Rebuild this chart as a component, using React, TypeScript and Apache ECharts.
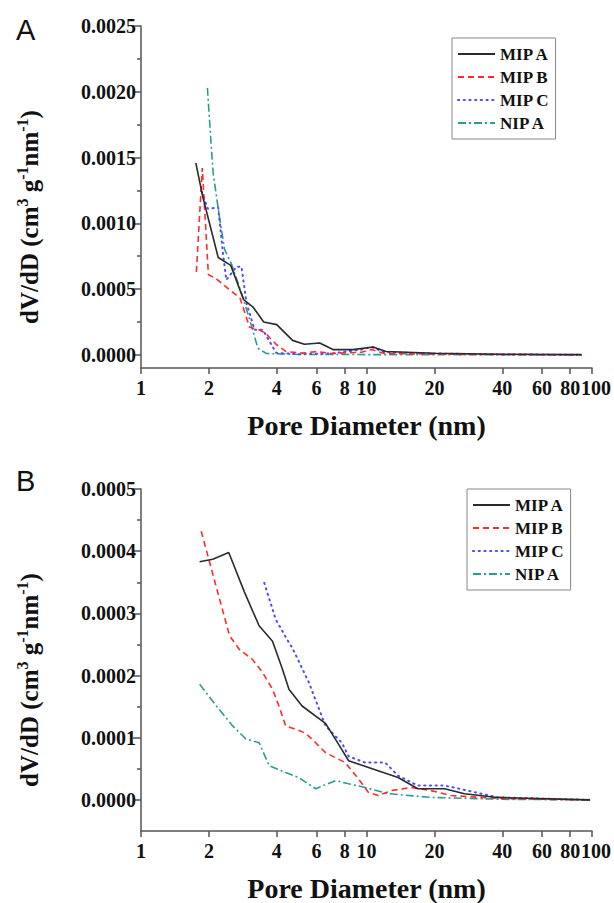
import React, { useEffect, useRef } from 'react';
import * as echarts from 'echarts';

const SERIF = '"Liberation Serif", "Times New Roman", serif';
const SANS = '"Liberation Sans", Arial, sans-serif';

const SERIES_NAMES = ['MIP A', 'MIP B', 'MIP C', 'NIP A'];
const X_TICKS = [1, 2, 4, 6, 8, 10, 20, 40, 60, 80, 100];
const X_LABELS_MAIN = [1, 2, 4, 6, 8, 10, 20, 40, 60, 80];
const X_LABELS_END = [100];
const Y_TICKS_A = [0, 0.0005, 0.001, 0.0015, 0.002, 0.0025];
const Y_MINOR_A = [0.00025, 0.00075, 0.00125, 0.00175, 0.00225];
const Y_TICKS_B = [0, 0.0001, 0.0002, 0.0003, 0.0004, 0.0005];
const Y_MINOR_B = [0.00005, 0.00015, 0.00025, 0.00035, 0.00045];

// Panel A: [pore diameter (nm), dV/dD]
const aMipA = [[1.75, 0.00146], [1.88, 0.0012], [2.2, 0.00074], [2.5, 0.00068], [2.85, 0.00042], [3.15, 0.00036], [3.5, 0.00025], [4.0, 0.00023], [4.7, 0.00011], [5.3, 0.00008], [6.2, 0.00009], [7.1, 0.00004], [8.7, 0.00004], [10.7, 0.00006], [12.2, 0.000025], [20, 0.000012], [40, 0.000005], [90, 0.000002]];
const aMipB = [[1.76, 0.00063], [1.87, 0.00142], [1.99, 0.00061], [2.15, 0.00058], [2.45, 0.0005], [2.75, 0.00043], [3.03, 0.00021], [3.35, 0.00019], [3.6, 0.00016], [3.72, 0.00013], [3.98, 0.00008], [4.4, 0.000025], [5.2, 0.000013], [6.0, 0.000025], [7.0, 0.00001], [9.5, 0.00002], [10.5, 0.00004], [12, 0.00001], [20, 0.000005], [40, 0.000002], [90, 0]];
const aMipC = [[1.86, 0.00124], [1.98, 0.00111], [2.2, 0.00112], [2.31, 0.00077], [2.39, 0.00057], [2.65, 0.00067], [2.79, 0.00067], [2.94, 0.00039], [3.09, 0.00027], [3.19, 0.00019], [3.47, 0.00019], [3.72, 0.0001], [3.98, 0.000015], [5, 0.000005], [7, 0.00001], [9.5, 0.00004], [10.5, 0.00006], [12, 0.00002], [20, 0.00001], [40, 0.000003], [90, 0]];
const aNipA = [[1.97, 0.00203], [2.05, 0.00158], [2.09, 0.00138], [2.24, 0.00102], [2.35, 0.0008], [2.52, 0.00069], [2.79, 0.00047], [3.03, 0.00027], [3.3, 0.00005], [3.6, 0.00001], [5, 0.000003], [10, 0.000002], [20, 0.000001], [90, 0]];

// Panel B
const bMipA = [[1.82, 0.000383], [2.08, 0.000387], [2.45, 0.000398], [2.87, 0.000335], [3.34, 0.00028], [3.83, 0.000255], [4.24, 0.00021], [4.53, 0.000178], [5.18, 0.000151], [6.58, 0.000123], [7.5, 0.00009], [8.33, 0.000063], [13.8, 0.000036], [16.9, 0.000018], [22.2, 0.000018], [27.2, 0.00001], [38, 0.000004], [98, 0]];
const bMipB = [[1.85, 0.000432], [2.1, 0.000358], [2.47, 0.000264], [2.73, 0.000242], [3.12, 0.000226], [3.46, 0.000205], [3.83, 0.000178], [4.09, 0.000151], [4.38, 0.000119], [5.0, 0.000112], [5.37, 0.000107], [5.95, 0.000092], [6.58, 0.000076], [8.05, 0.00006], [9.2, 0.000034], [10.2, 0.000012], [11.3, 0.000007], [12.9, 0.000015], [15.8, 0.00002], [19.3, 0.000015], [23.7, 0.000007], [40, 0.000002], [98, 0]];
const bMipC = [[3.52, 0.000349], [3.96, 0.00029], [4.53, 0.000253], [4.68, 0.000245], [5.55, 0.000189], [6.58, 0.000119], [7.77, 0.000092], [8.33, 0.00007], [9.87, 0.00006], [12.1, 0.00006], [13.8, 0.000039], [16.9, 0.000023], [22.2, 0.000023], [28.1, 0.000015], [38, 0.000004], [98, 0]];
const bNipA = [[1.82, 0.000186], [2.16, 0.000151], [2.55, 0.000119], [2.92, 0.000098], [3.34, 0.000092], [3.7, 0.000055], [4.38, 0.000044], [5.0, 0.000036], [5.95, 0.000018], [7.3, 0.000031], [8.33, 0.000026], [9.87, 0.00002], [12.5, 0.00001], [19.3, 0.000004], [40, 0.000001], [98, 0]];

const LINE_STYLES: any[] = [
  { color: '#2b2b2b', type: 'solid', width: 1.6 },
  { color: '#ff2b2b', type: [6, 4], width: 1.6 },
  { color: '#4d4dff', type: [1.2, 4.5], width: 2, cap: 'round' },
  { color: '#2c9c90', type: [8, 3, 2, 3], width: 1.6 },
];

const AXIS_COLOR = '#555';
const TEXT_COLOR = '#111';

const xLabelStyle = {
  showMinLabel: true,
  showMaxLabel: true,
  fontSize: 20,
  fontWeight: 'bold',
  fontFamily: SERIF,
  color: TEXT_COLOR,
  margin: 10,
  formatter: (v: number) => String(Math.round(v)),
};

function makeXAxis(gridIndex: number) {
  return {
    type: 'log',
    logBase: 10,
    gridIndex,
    position: 'bottom',
    min: 1,
    max: 100,
    name: 'Pore Diameter (nm)',
    nameLocation: 'middle',
    nameGap: 43,
    nameTextStyle: { fontSize: 28, fontWeight: 'bold', fontFamily: SERIF, color: TEXT_COLOR },
    axisLine: { onZero: false, lineStyle: { color: AXIS_COLOR, width: 1.5 } },
    axisTick: { customValues: X_TICKS, length: 6, lineStyle: { color: AXIS_COLOR, width: 1.5 } },
    axisLabel: { ...xLabelStyle, customValues: X_LABELS_MAIN },
    splitLine: { show: false },
  };
}

// companion axis carrying only the end label, so it is not dropped by the overlap check
function makeXEndAxis(gridIndex: number) {
  return {
    type: 'log',
    logBase: 10,
    gridIndex,
    position: 'bottom',
    min: 1,
    max: 100,
    axisLine: { show: false, onZero: false },
    axisTick: { show: false },
    axisLabel: { ...xLabelStyle, customValues: X_LABELS_END, padding: [0, 0, 0, 8] },
    splitLine: { show: false },
  };
}

const yName = '{m|dV/dD (cm}{s|3}{m| g}{s|-1}{m|nm}{s|-1}{m|)}';
const yNameStyle = {
  padding: [0, 40, 0, 0],
  rich: {
    m: { fontSize: 25, fontWeight: 'bold', fontFamily: SERIF, color: TEXT_COLOR, lineHeight: 30 },
    s: { fontSize: 16, fontWeight: 'bold', fontFamily: SERIF, color: TEXT_COLOR, lineHeight: 16, verticalAlign: 'top' },
  },
};

function makeYAxis(gridIndex: number, min: number, max: number, ticks: number[]) {
  return {
    type: 'value',
    gridIndex,
    min,
    max,
    name: yName,
    nameLocation: 'middle',
    nameGap: 97,
    nameTextStyle: yNameStyle,
    axisLine: { show: true, lineStyle: { color: AXIS_COLOR, width: 1.5 } },
    axisTick: { show: true, customValues: ticks, length: 8, lineStyle: { color: AXIS_COLOR, width: 1.5 } },
    axisLabel: {
      customValues: ticks,
      fontSize: 20,
      fontWeight: 'bold',
      fontFamily: SERIF,
      color: TEXT_COLOR,
      margin: 5,
      formatter: (v: number) => v.toFixed(4),
    },
    splitLine: { show: false },
  };
}

function makeMinorYAxis(gridIndex: number, min: number, max: number, ticks: number[]) {
  return {
    type: 'value',
    gridIndex,
    min,
    max,
    position: 'left',
    axisLine: { show: false },
    axisTick: { show: true, customValues: ticks, length: 4, lineStyle: { color: AXIS_COLOR, width: 1.5 } },
    axisLabel: { show: false },
    splitLine: { show: false },
  };
}

function makeLegend(left: number, top: number) {
  return {
    orient: 'vertical',
    left,
    top,
    data: SERIES_NAMES,
    backgroundColor: '#fff',
    borderColor: '#888',
    borderWidth: 1,
    padding: [6, 6, 6, 5],
    itemWidth: 37,
    itemHeight: 14,
    itemGap: 3,
    itemStyle: { opacity: 0 },
    textStyle: { fontSize: 17, fontWeight: 'bold', fontFamily: SERIF, color: TEXT_COLOR, lineHeight: 20 },
  };
}

function makeSeries(datasets: number[][][], xAxisIndex: number, yAxisIndex: number) {
  return datasets.map((data, i) => ({
    type: 'line',
    name: SERIES_NAMES[i],
    data,
    xAxisIndex,
    yAxisIndex,
    symbol: 'none',
    showSymbol: false,
    lineStyle: LINE_STYLES[i],
    itemStyle: { color: LINE_STYLES[i].color },
    z: 2 + (3 - i),
  }));
}

export default function App() {
  const ref = useRef<HTMLDivElement>(null);
  useEffect(() => {
    if (!ref.current) return;
    const chart = echarts.init(ref.current, undefined, { renderer: 'svg' });
    chart.setOption({
      animation: false,
      backgroundColor: '#fff',
      textStyle: { fontFamily: SERIF },
      grid: [
        { left: 141, right: 21, top: 26, height: 342 },
        { left: 141, right: 20, top: 489, height: 344 },
      ],
      xAxis: [makeXAxis(0), makeXAxis(1), makeXEndAxis(0), makeXEndAxis(1)],
      yAxis: [
        makeYAxis(0, -0.0001, 0.0025, Y_TICKS_A),
        makeMinorYAxis(0, -0.0001, 0.0025, Y_MINOR_A),
        makeYAxis(1, -0.00005, 0.0005, Y_TICKS_B),
        makeMinorYAxis(1, -0.00005, 0.0005, Y_MINOR_B),
      ],
      legend: [makeLegend(452, 38), makeLegend(467, 489)],
      graphic: [
        { type: 'text', left: 16, top: 15, style: { text: 'A', fontSize: 29, fontFamily: SANS, fill: '#111' } },
        { type: 'text', left: 16, top: 466, style: { text: 'B', fontSize: 29, fontFamily: SANS, fill: '#111' } },
      ],
      series: [
        ...makeSeries([aMipA, aMipB, aMipC, aNipA], 0, 0),
        ...makeSeries([bMipA, bMipB, bMipC, bNipA], 1, 2),
      ],
    });
    return () => chart.dispose();
  }, []);
  return <div ref={ref} style={{ position: 'fixed', left: 0, top: 0, width: 614, height: 903 }} />;
}
